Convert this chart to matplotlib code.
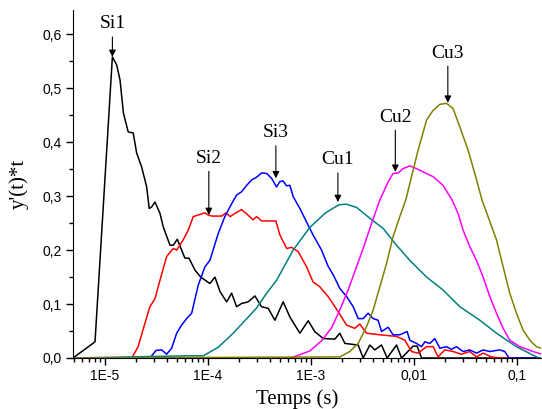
import matplotlib
matplotlib.use("Agg")
import matplotlib.pyplot as plt
from matplotlib.ticker import FixedLocator, FixedFormatter, FuncFormatter, MultipleLocator, LogLocator, NullFormatter

# Si1 (black)
si1_t = [4.89e-6, 8.0e-6, 1.18e-5, 1.30e-5, 1.40e-5, 1.51e-5, 1.68e-5, 1.88e-5, 2.03e-5, 2.27e-5,
         2.54e-5, 2.69e-5, 2.84e-5, 3.06e-5, 3.42e-5, 3.68e-5, 4.28e-5, 4.60e-5, 5.04e-5, 5.55e-5,
         5.98e-5, 6.54e-5, 7.48e-5, 8.50e-5, 1.045e-4, 1.17e-4, 1.31e-4, 1.52e-4, 1.70e-4, 1.90e-4,
         2.12e-4, 2.46e-4, 2.86e-4, 3.32e-4, 3.85e-4, 4.47e-4, 5.38e-4, 6.25e-4, 7.82e-4, 9.42e-4,
         1.09e-3, 1.32e-3, 1.71e-3, 1.91e-3, 2.14e-3, 2.88e-3, 3.22e-3, 3.74e-3, 4.18e-3, 4.86e-3,
         5.51e-3, 6.79e-3, 7.60e-3, 9.85e-3, 1.077e-2, 1.19e-2, 0.17]
si1_y = [0.0, 0.03, 0.558, 0.543, 0.515, 0.454, 0.419, 0.417, 0.38, 0.354,
         0.317, 0.277, 0.28, 0.289, 0.268, 0.243, 0.209, 0.209, 0.22, 0.2,
         0.185, 0.185, 0.163, 0.15, 0.138, 0.15, 0.123, 0.104, 0.12, 0.095,
         0.101, 0.104, 0.115, 0.095, 0.092, 0.07, 0.104, 0.076, 0.046, 0.069,
         0.049, 0.036, 0.035, 0.046, 0.027, 0.024, 0.0, 0.024, 0.015, 0.024,
         0.0, 0.024, 0.0, 0.022, 0.022, 0.0, 0.0]

# Si2 (red)
si2_t = [4.89e-6, 1.82e-5, 2.10e-5, 2.44e-5, 2.73e-5, 3.06e-5, 3.42e-5, 3.97e-5, 4.60e-5, 4.97e-5,
         5.75e-5, 6.44e-5, 7.20e-5, 8.05e-5, 9.35e-5, 1.007e-4, 1.09e-4, 1.36e-4, 1.50e-4, 1.64e-4,
         1.83e-4, 2.12e-4, 2.38e-4, 2.75e-4, 2.97e-4, 3.32e-4, 4.57e-4, 5.00e-4, 5.81e-4, 6.50e-4,
         7.53e-4, 9.08e-4, 1.05e-3, 1.22e-3, 1.47e-3, 1.84e-3, 2.22e-3, 2.67e-3, 2.99e-3, 3.47e-3,
         4.68e-3, 6.79e-3, 8.18e-3, 9.50e-3, 1.10e-2, 1.33e-2, 1.54e-2, 1.72e-2, 2.00e-2, 2.41e-2,
         2.90e-2, 3.50e-2, 4.06e-2, 4.71e-2, 5.68e-2, 6.84e-2, 0.17]
si2_y = [0.0, 0.0, 0.021, 0.064, 0.095, 0.11, 0.144, 0.188, 0.203, 0.2,
         0.219, 0.237, 0.262, 0.265, 0.269, 0.265, 0.263, 0.263, 0.269, 0.262,
         0.268, 0.275, 0.267, 0.256, 0.262, 0.254, 0.254, 0.228, 0.203, 0.205,
         0.197, 0.169, 0.141, 0.132, 0.114, 0.086, 0.061, 0.055, 0.063, 0.046,
         0.043, 0.04, 0.033, 0.012, 0.009, 0.021, 0.021, 0.002, 0.015, 0.012,
         0.007, 0.012, 0.002, 0.009, 0.002, 0.0, 0.0]

# Si3 (blue)
si3_t = [4.89e-6, 2.73e-5, 3.13e-5, 3.55e-5, 3.97e-5, 4.44e-5, 4.97e-5, 5.55e-5, 6.21e-5, 6.95e-5,
         8.05e-5, 9.35e-5, 1.045e-4, 1.26e-4, 1.46e-4, 1.70e-4, 1.90e-4, 2.12e-4, 2.38e-4, 2.66e-4,
         2.97e-4, 3.32e-4, 3.72e-4, 4.15e-4, 4.64e-4, 5.00e-4, 5.38e-4, 5.81e-4, 6.25e-4, 6.73e-4,
         7.82e-4, 9.08e-4, 1.05e-3, 1.27e-3, 1.47e-3, 1.65e-3, 1.91e-3, 2.22e-3, 2.58e-3, 2.88e-3,
         3.22e-3, 3.60e-3, 4.03e-3, 4.50e-3, 4.86e-3, 5.62e-3, 6.29e-3, 7.31e-3, 8.61e-3, 9.14e-3,
         1.06e-2, 1.19e-2, 1.28e-2, 1.43e-2, 1.60e-2, 1.79e-2, 2.08e-2, 2.32e-2, 2.60e-2, 3.01e-2,
         3.50e-2, 4.06e-2, 4.71e-2, 5.47e-2, 6.84e-2, 7.64e-2, 8.41e-2, 0.17]
si3_y = [0.0, 0.0, 0.014, 0.015, 0.007, 0.018, 0.046, 0.061, 0.073, 0.083,
         0.135, 0.169, 0.181, 0.231, 0.262, 0.286, 0.302, 0.308, 0.32, 0.33,
         0.335, 0.343, 0.342, 0.333, 0.317, 0.327, 0.328, 0.319, 0.32, 0.299,
         0.277, 0.252, 0.228, 0.2, 0.17, 0.154, 0.129, 0.114, 0.095, 0.073,
         0.073, 0.083, 0.073, 0.07, 0.049, 0.057, 0.043, 0.043, 0.049, 0.033,
         0.027, 0.021, 0.03, 0.027, 0.036, 0.018, 0.021, 0.016, 0.021, 0.012,
         0.015, 0.009, 0.015, 0.012, 0.015, 0.012, 0.0, 0.0]

# Cu1 (teal)
cu1_t = [4.89e-6, 6.21e-5, 9.0e-5, 1.26e-4, 1.76e-4, 2.95e-4, 3.72e-4, 4.64e-4, 6.73e-4, 9.77e-4,
         1.37e-3, 1.53e-3, 1.88e-3, 2.22e-3, 2.78e-3, 3.74e-3, 5.04e-3, 6.79e-3, 9.14e-3, 1.33e-2,
         1.92e-2, 2.80e-2, 4.38e-2, 6.35e-2, 9.93e-2, 0.155, 0.17]
cu1_y = [0.0, 0.004, 0.004, 0.02, 0.046, 0.092, 0.12, 0.144, 0.2, 0.242,
         0.268, 0.274, 0.284, 0.285, 0.279, 0.259, 0.24, 0.209, 0.181, 0.15,
         0.126, 0.095, 0.07, 0.046, 0.021, 0.002, 0.0]

# Cu2 (magenta)
cu2_t = [4.89e-6, 6.25e-4, 7.26e-4, 9.77e-4, 1.27e-3, 1.59e-3, 1.91e-3, 2.30e-3, 2.78e-3, 3.34e-3,
         3.88e-3, 4.68e-3, 5.62e-3, 6.29e-3, 7.05e-3, 7.87e-3, 9.14e-3, 1.06e-2, 1.23e-2, 1.54e-2,
         1.92e-2, 2.35e-2, 2.69e-2, 3.01e-2, 3.50e-2, 4.06e-2, 4.71e-2, 5.47e-2, 6.35e-2, 7.37e-2,
         8.55e-2, 0.107, 0.144, 0.174]
cu2_y = [0.0, 0.0, 0.004, 0.013, 0.032, 0.056, 0.089, 0.126, 0.169, 0.212,
         0.249, 0.293, 0.326, 0.342, 0.343, 0.351, 0.356, 0.351, 0.345, 0.336,
         0.32, 0.293, 0.268, 0.237, 0.206, 0.181, 0.15, 0.114, 0.083, 0.055,
         0.033, 0.021, 0.012, 0.007]

# Cu3 (olive)
cu3_t = [4.89e-6, 1.91e-3, 2.39e-3, 2.88e-3, 3.47e-3, 4.03e-3, 4.68e-3, 5.43e-3, 6.29e-3, 7.31e-3,
         8.36e-3, 9.50e-3, 1.10e-2, 1.33e-2, 1.54e-2, 1.79e-2, 2.08e-2, 2.41e-2, 2.80e-2, 3.37e-2,
         3.91e-2, 4.59e-2, 5.26e-2, 6.35e-2, 7.37e-2, 8.55e-2, 9.93e-2, 0.115, 0.134, 0.155, 0.174]
cu3_y = [0.0, 0.002, 0.012, 0.027, 0.058, 0.089, 0.132, 0.175, 0.225, 0.262,
         0.293, 0.336, 0.385, 0.441, 0.459, 0.47, 0.472, 0.462, 0.428, 0.385,
         0.342, 0.293, 0.262, 0.219, 0.169, 0.12, 0.083, 0.052, 0.033, 0.021, 0.018]

# labels: name, arrow tip (t, y), text y
label_names = ["Si1", "Si2", "Si3", "Cu1", "Cu2", "Cu3"]
label_t = [1.18e-5, 1.02e-4, 4.57e-4, 1.83e-3, 6.61e-3, 2.14e-2]
label_tip = [0.558, 0.265, 0.333, 0.289, 0.345, 0.473]
label_text_y = [0.619, 0.370, 0.417, 0.367, 0.446, 0.565]

x_ticks = [1e-5, 1e-4, 1e-3, 1e-2, 1e-1]
x_ticklabels = ["1E-5", "1E-4", "1E-3", "0,01", "0,1"]

series = [
    (si1_t, si1_y, "black"),
    (si2_t, si2_y, "#ff0000"),
    (si3_t, si3_y, "#0000ff"),
    (cu1_t, cu1_y, "#008080"),
    (cu2_t, cu2_y, "#ff00ff"),
    (cu3_t, cu3_y, "#808000"),
]

serif = ["Liberation Serif", "DejaVu Serif"]
plt.rcParams["font.family"] = ["Liberation Sans", "DejaVu Sans"]

fig = plt.figure(figsize=(5.42, 4.09), dpi=100)
ax = fig.add_axes([0.1347, 0.1247, 0.863, 0.851])

for t, y, c in series:
    ax.plot(t, y, color=c, lw=1.1)

ax.set_xscale("log")
ax.set_xlim(4.89e-6, 0.171)
ax.set_ylim(0, 0.645)

ax.xaxis.set_major_locator(FixedLocator(x_ticks))
ax.xaxis.set_major_formatter(FixedFormatter(x_ticklabels))
ax.xaxis.set_minor_locator(LogLocator(base=10, subs=range(2, 10)))
ax.xaxis.set_minor_formatter(NullFormatter())
ax.yaxis.set_major_locator(MultipleLocator(0.1))
ax.yaxis.set_minor_locator(MultipleLocator(0.05))
ax.yaxis.set_major_formatter(FuncFormatter(lambda v, p: ("%.1f" % v).replace(".", ",")))

ax.tick_params(which="major", direction="out", length=5, width=1, labelsize=10, pad=3)
ax.tick_params(which="minor", direction="out", length=3, width=1)
ax.spines["top"].set_visible(False)
ax.spines["right"].set_visible(False)

ax.set_xlabel("Temps (s)", family=serif, fontsize=15)
ax.set_ylabel("y'(t)*t", family=serif, fontsize=15)
ax.xaxis.set_label_coords(0.48, -0.09)
ax.yaxis.set_label_coords(-0.095, 0.5)

for name, t, tip, ty in zip(label_names, label_t, label_tip, label_text_y):
    ax.text(t, ty, name, family=serif, fontsize=14, ha="center", va="center")
    ax.annotate("", xy=(t, tip), xytext=(t, ty - 0.024),
                arrowprops=dict(arrowstyle="-|>", color="black", lw=0.8,
                                mutation_scale=10, shrinkA=0, shrinkB=0))

fig.savefig("out.png", dpi=100)
